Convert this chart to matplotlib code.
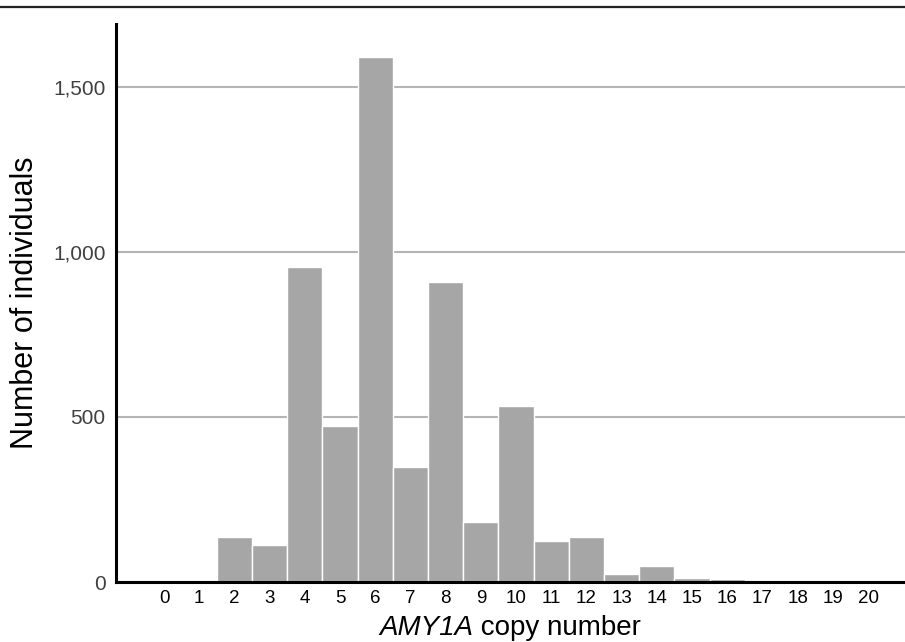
import matplotlib
matplotlib.use("Agg")
import matplotlib.pyplot as plt
from matplotlib.lines import Line2D
from matplotlib.ticker import FuncFormatter

plt.rcParams['font.family'] = ['Liberation Sans', 'DejaVu Sans']

copy_numbers = list(range(0, 21))
counts = [0, 4, 136, 112, 955, 473, 1591, 348, 910, 182, 533,
          124, 136, 24, 48, 12, 8, 4, 4, 0, 3]
y_ticks = [0, 500, 1000, 1500]
xlabel_gene = "AMY1A"
xlabel_rest = " copy number"
ylabel = "Number of individuals"

W, H = 905, 642
fig = plt.figure(figsize=(W / 100, H / 100), dpi=100)
ax = fig.add_axes([115.5 / W, (H - 582) / H, (W - 115.5) / W, (582 - 24) / H])

ax.bar(copy_numbers, counts, width=1.0, color='#a6a6a6', edgecolor='white',
       linewidth=1.0, zorder=3)

ax.set_xlim(-1.38, 21.05)
ax.set_ylim(0, 1690)
ax.set_yticks(y_ticks)
ax.yaxis.set_major_formatter(FuncFormatter(lambda v, p: f"{int(v):,}"))
ax.set_xticks(copy_numbers)
ax.set_xticklabels([str(c) for c in copy_numbers])

ax.grid(axis='y', color='#b4b4b4', linewidth=1.5, zorder=0)
ax.grid(axis='x', visible=False)
for s in ['top', 'right']:
    ax.spines[s].set_visible(False)
ax.spines['left'].set_linewidth(2.2)
ax.spines['bottom'].set_linewidth(2.2)
ax.spines['left'].set_zorder(5)
ax.spines['bottom'].set_zorder(5)
ax.tick_params(axis='both', length=0)
ax.tick_params(axis='x', labelsize=13.5, pad=6, colors='black')
ax.tick_params(axis='y', labelsize=15, pad=7, labelcolor='#404040')

ax.set_ylabel(ylabel, fontsize=22)
ax.yaxis.set_label_coords(-0.095, 0.5)

# x label: italic gene name followed by normal text, centred on the axes
fs = 20
base_y = 1 - 635 / H
t1 = fig.text(0, base_y, xlabel_gene, fontsize=fs, style='italic',
              ha='left', va='baseline')
t2 = fig.text(0, base_y, xlabel_rest, fontsize=fs, ha='left', va='baseline')
fig.canvas.draw()
r = fig.canvas.get_renderer()
w1 = t1.get_window_extent(r).width
w2 = t2.get_window_extent(r).width
cx = (115.5 + 905) / 2
x0 = cx - (w1 + w2) / 2
t1.set_x(x0 / W)
t2.set_x((x0 + w1) / W)

fig.add_artist(Line2D([0, 1], [1 - 6.5 / H, 1 - 6.5 / H], transform=fig.transFigure,
                      color='#222222', linewidth=1.6))

fig.savefig("out.png", dpi=100)
